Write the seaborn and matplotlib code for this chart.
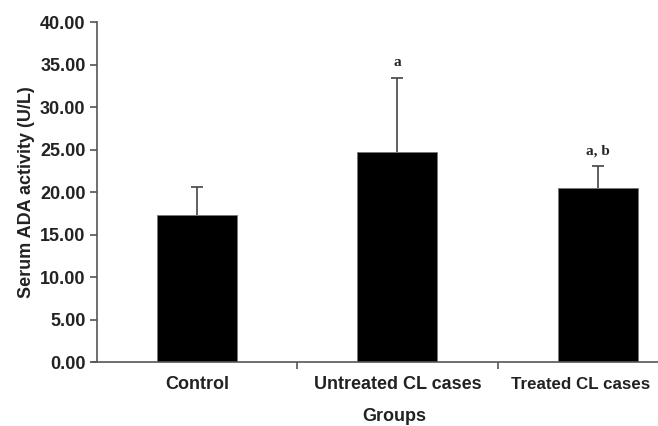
import numpy as np
import pandas as pd
import matplotlib
matplotlib.use("Agg")
import matplotlib.pyplot as plt
import matplotlib.transforms as mtransforms
import seaborn as sns

# ---------------------------
# DATA
# ---------------------------
groups = ["Control", "Untreated CL cases", "Treated CL cases"]
mean_ada = [17.35, 24.75, 20.55]
sd_ada = [3.3, 8.7, 2.55]
sig_labels = ["", "a", "a, b"]
y_ticks = [0, 5, 10, 15, 20, 25, 30, 35, 40]

df = pd.DataFrame({"Group": groups, "ADA": mean_ada})

# ---------------------------
# STYLE
# ---------------------------
sns.set_style("ticks")
plt.rcParams["font.family"] = ["Liberation Sans", "DejaVu Sans"]
axis_grey = "#555555"
text_col = "#222222"

fig = plt.figure(figsize=(6.58, 4.26), dpi=100)
ax = fig.add_axes([0.147, 0.1495, 0.853, 0.7985])

sns.barplot(data=df, x="Group", y="ADA", color="black", width=0.4,
            errorbar=None, saturation=1, ax=ax,
            edgecolor="#777777", linewidth=0.6)

x = np.arange(len(groups))
eb = ax.errorbar(x, mean_ada, yerr=[np.zeros(len(sd_ada)), sd_ada], fmt="none",
                 ecolor="#444444", elinewidth=1.2, capsize=4.5, capthick=1.2)
# only keep the upper caps
eb[1][0].set_visible(False)

for xi, m, s, lab in zip(x, mean_ada, sd_ada, sig_labels):
    if lab:
        ax.annotate(lab, (xi, m + s), xytext=(0, 8.5), textcoords="offset points",
                    ha="center", va="baseline", fontsize=11, fontweight="bold",
                    family=["Liberation Serif", "DejaVu Serif"])

# ---------------------------
# AXES
# ---------------------------
ax.set_ylim(0, 40)
ax.set_xlim(-0.5, 2.3)
ax.set_yticks(y_ticks)
ax.set_yticklabels([f"{v:.2f}" for v in y_ticks], fontsize=13, fontweight="bold",
                   color=text_col)
ax.set_xticks(x)
# last label is squeezed in against the right edge, drawn separately
ax.set_xticklabels(groups[:-1] + [""], fontsize=13, fontweight="bold", color=text_col)
shift = mtransforms.ScaledTranslation(-17 / 100, 0, fig.dpi_scale_trans)
ax.text(x[-1], -0.0435, groups[-1], fontsize=12.2, fontweight="bold", color=text_col,
        ha="center", va="top",
        transform=ax.get_xaxis_transform() + shift)

ax.set_xticks([0.5, 1.5], minor=True)
ax.tick_params(axis="x", which="major", length=0, pad=10)
ax.tick_params(axis="x", which="minor", length=5, color=axis_grey, width=1.2)
ax.tick_params(axis="y", length=5, color=axis_grey, width=1.2, pad=3)

ax.set_xlabel("Groups", fontsize=13, fontweight="bold", color=text_col)
ax.xaxis.set_label_coords(0.53, -0.135)
ax.set_ylabel("Serum ADA activity (U/L)", fontsize=13, fontweight="bold",
              color=text_col, labelpad=4)

sns.despine(ax=ax)
for side in ["left", "bottom"]:
    ax.spines[side].set_color(axis_grey)
    ax.spines[side].set_linewidth(1.2)
ax.spines["bottom"].set_bounds(-0.525, 2.3)

fig.savefig("out.png", dpi=100)
